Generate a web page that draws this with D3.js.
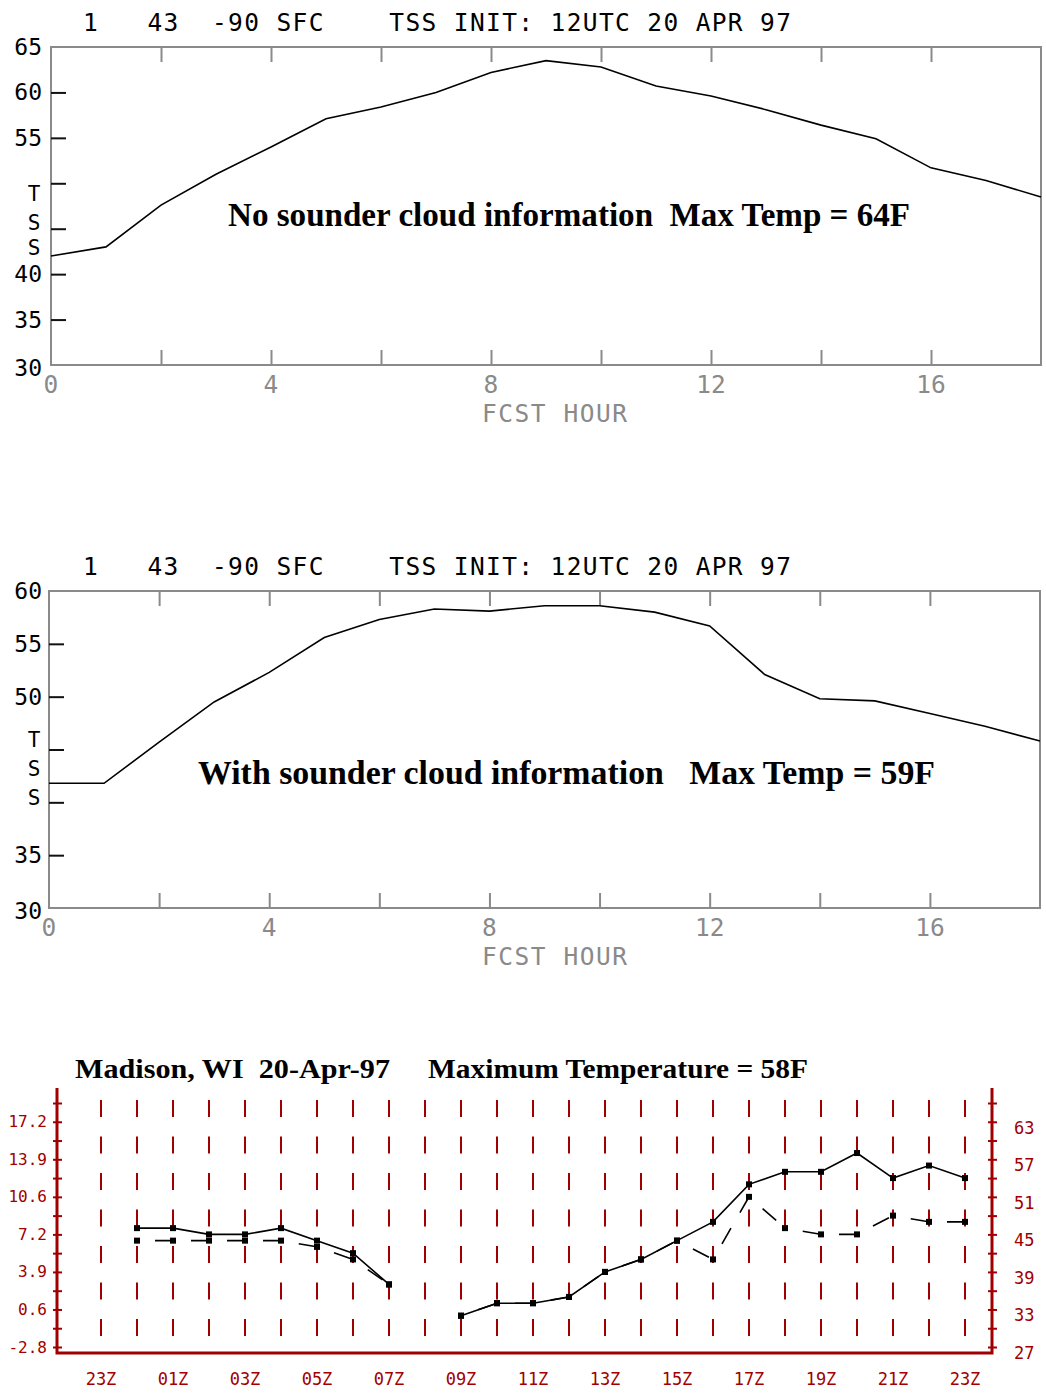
<!DOCTYPE html>
<html><head><meta charset="utf-8">
<script src="https://cdn.jsdelivr.net/npm/d3@7"></script>
<style>html,body{margin:0;padding:0;background:#fff}</style>
</head><body><svg id="c" width="1046" height="1395"></svg>
<script>
// ---------------- DATA ----------------
const fcstHours = d3.range(0, 19);
const tempNoSounder   = [42.0, 43.0, 47.6, 51.0, 54.0, 57.1, 58.4, 60.0, 62.2, 63.5, 62.8, 60.7, 59.6, 58.1, 56.4, 54.9, 51.7, 50.3, 48.5];
const tempWithSounder = [41.8, 41.8, 45.7, 49.5, 52.3, 55.6, 57.3, 58.3, 58.1, 58.6, 58.6, 58.0, 56.7, 52.1, 49.8, 49.6, 48.4, 47.2, 45.8];
const tssXTickLabels = [0, 4, 8, 12, 16];
const tssXMinorTicks = [2, 4, 6, 8, 10, 12, 14, 16];
const tss1YTickLabels = [65, 60, 55, 40, 35, 30];
const tss1YTicks = [60, 55, 50, 45, 40, 35];
const tss2YTickLabels = [60, 55, 50, 35, 30];
const tss2YTicks = [55, 50, 45, 40, 35];
const tssAxisLetters = ["T", "S", "S"];
const tssTitle = "1   43  -90 SFC    TSS INIT: 12UTC 20 APR 97";
const tssXTitle = "FCST HOUR";
const note1 = "No sounder cloud information  Max Temp = 64F";
const note2 = "With sounder cloud information   Max Temp = 59F";

const obsHours = ["23Z","00Z","01Z","02Z","03Z","04Z","05Z","06Z","07Z","08Z","09Z","10Z","11Z","12Z","13Z","14Z","15Z","16Z","17Z","18Z","19Z","20Z","21Z","22Z","23Z"];
const obsTemp   = [null,46,46,45,45,46,44,42,37,null,32,34,34,35,39,41,44,47,53,55,55,58,54,56,54];
const obsDashed = [null,44,44,44,44,44,43,41,37,null,32,34,34,35,39,41,44,41,51,46,45,45,48,47,47];
const leftLabelsC = ["17.2","13.9","10.6","7.2","3.9","0.6","-2.8"];
const rightLabelsF = [63, 57, 51, 45, 39, 33, 27];
const obsTitleA = "Madison, WI  20-Apr-97";
const obsTitleB = "Maximum Temperature = 58F";

// ---------------- DRAW ----------------
const svg = d3.select("#c");
svg.append("rect").attr("width", 1046).attr("height", 1395).attr("fill", "#fff");
const MONO = "'DejaVu Sans Mono', monospace";
const SERIF = "'Liberation Serif', 'Times New Roman', serif";
const GRAY = "#8a8a8a";

function drawTss(cfg) {
  const g = svg.append("g");
  const x = d3.scaleLinear().domain([0, 18]).range(cfg.xr);
  const y = d3.scaleLinear().domain(cfg.yd).range(cfg.yr);
  const [x0, x1] = cfg.xr, [yb, yt] = cfg.yr;

  // title
  g.append("text").attr("x", 83).attr("y", cfg.titleY)
    .attr("font-family", MONO).attr("font-size", 24.5).attr("fill", "#000")
    .attr("textLength", 708).attr("lengthAdjust", "spacing")
    .style("white-space", "pre").text(tssTitle);

  // frame
  g.append("rect").attr("x", x0).attr("y", yt).attr("width", x1 - x0).attr("height", yb - yt)
    .attr("fill", "none").attr("stroke", GRAY).attr("stroke-width", 2);

  // top ticks
  const top = g.append("g").attr("transform", `translate(0,${yt})`)
    .call(d3.axisBottom(x).tickValues(tssXMinorTicks).tickSize(15).tickFormat(""));
  top.select(".domain").remove();
  top.selectAll("line").attr("stroke", GRAY).attr("stroke-width", 2);
  // bottom ticks
  const bot = g.append("g").attr("transform", `translate(0,${yb})`)
    .call(d3.axisTop(x).tickValues(tssXMinorTicks).tickSize(15).tickFormat(""));
  bot.select(".domain").remove();
  bot.selectAll("line").attr("stroke", GRAY).attr("stroke-width", 2);
  // left ticks
  const lt = g.append("g").attr("transform", `translate(${x0},0)`)
    .call(d3.axisRight(y).tickValues(cfg.yTicks).tickSize(15).tickFormat(""));
  lt.select(".domain").remove();
  lt.selectAll("line").attr("stroke", "#111").attr("stroke-width", 2);

  // y labels
  g.selectAll(".yl").data(cfg.yLabels).join("text")
    .attr("x", 42).attr("y", d => y(d) + (d === cfg.yd[0] ? 3 : 0))
    .attr("text-anchor", "end").attr("dominant-baseline", "central")
    .attr("font-family", MONO).attr("font-size", 23).attr("fill", "#000").text(d => d);
  // axis letters T S S
  g.selectAll(".al").data(tssAxisLetters).join("text")
    .attr("x", 34).attr("y", (d, i) => y(cfg.letterVals[i]))
    .attr("text-anchor", "middle").attr("dominant-baseline", "central")
    .attr("font-family", MONO).attr("font-size", 21).attr("fill", "#000").text(d => d);

  // x labels
  g.selectAll(".xl").data(tssXTickLabels).join("text")
    .attr("x", d => x(d)).attr("y", yb + 28)
    .attr("text-anchor", "middle")
    .attr("font-family", MONO).attr("font-size", 24.5).attr("fill", GRAY).text(d => d);
  g.append("text").attr("x", 482).attr("y", yb + 57)
    .attr("font-family", MONO).attr("font-size", 24.5).attr("fill", GRAY)
    .attr("textLength", 145).attr("lengthAdjust", "spacing").text(tssXTitle);

  // line
  const line = d3.line().x((d, i) => x(fcstHours[i])).y(d => y(d));
  g.append("path").datum(cfg.data).attr("d", line)
    .attr("fill", "none").attr("stroke", "#000").attr("stroke-width", 1.6);

  // annotation
  g.append("text").attr("x", cfg.noteX).attr("y", cfg.noteY)
    .attr("font-family", SERIF).attr("font-weight", "bold").attr("font-size", 33)
    .attr("fill", "#000").attr("textLength", cfg.noteW).attr("lengthAdjust", "spacingAndGlyphs")
    .style("white-space", "pre").text(cfg.note);
}

drawTss({xr: [51, 1041], yr: [365, 47], yd: [30, 65], yTicks: tss1YTicks, yLabels: tss1YTickLabels,
  letterVals: [48.8, 45.6, 42.9], titleY: 31, data: tempNoSounder,
  note: note1, noteX: 228, noteY: 226, noteW: 682});
drawTss({xr: [49, 1040], yr: [908, 591], yd: [30, 60], yTicks: tss2YTicks, yLabels: tss2YTickLabels,
  letterVals: [45.9, 43.2, 40.4], titleY: 575, data: tempWithSounder,
  note: note2, noteX: 198, noteY: 784, noteW: 737});

// ---------------- OBS CHART ----------------
const RED = "#a00000";
const g3 = svg.append("g");
const xo = d3.scaleLinear().domain([0, 24]).range([101, 965]);
const yo = d3.scaleLinear().domain([27, 66]).range([1347, 1103]);
const AX_L = 57, AX_R = 992, AX_T = 1088, AX_B = 1353;

g3.append("text").attr("x", 75).attr("y", 1078)
  .attr("font-family", SERIF).attr("font-weight", "bold").attr("font-size", 27)
  .attr("textLength", 315).attr("lengthAdjust", "spacingAndGlyphs")
  .style("white-space", "pre").text(obsTitleA);
g3.append("text").attr("x", 428).attr("y", 1078)
  .attr("font-family", SERIF).attr("font-weight", "bold").attr("font-size", 27)
  .attr("textLength", 380).attr("lengthAdjust", "spacingAndGlyphs")
  .style("white-space", "pre").text(obsTitleB);

// dashed grid
g3.selectAll(".grid").data(obsHours).join("line")
  .attr("x1", (d, i) => xo(i)).attr("x2", (d, i) => xo(i))
  .attr("y1", 1100).attr("y2", 1341)
  .attr("stroke", RED).attr("stroke-width", 2).attr("stroke-dasharray", "17,19.5");

// axis frame
g3.append("path").attr("d", `M${AX_L},${AX_T}V${AX_B}H${AX_R}V${AX_T}`)
  .attr("fill", "none").attr("stroke", RED).attr("stroke-width", 3);
const tickVals = d3.range(27, 67, 3);
const la = g3.append("g").attr("transform", `translate(${AX_L + 5},0)`)
  .call(d3.axisLeft(yo).tickValues(tickVals).tickSize(9).tickFormat(""));
la.select(".domain").remove();
la.selectAll("line").attr("stroke", RED).attr("stroke-width", 2);
const ra = g3.append("g").attr("transform", `translate(${AX_R + 5},0)`)
  .call(d3.axisLeft(yo).tickValues(tickVals).tickSize(9).tickFormat(""));
ra.select(".domain").remove();
ra.selectAll("line").attr("stroke", RED).attr("stroke-width", 2);

g3.selectAll(".ll").data(leftLabelsC).join("text")
  .attr("x", 47).attr("y", (d, i) => yo(rightLabelsF[i]))
  .attr("text-anchor", "end").attr("dominant-baseline", "central")
  .attr("font-family", MONO).attr("font-size", 16).attr("fill", RED).text(d => d);
g3.selectAll(".rl").data(rightLabelsF).join("text")
  .attr("x", 1014).attr("y", d => yo(d) + 6)
  .attr("dominant-baseline", "central")
  .attr("font-family", MONO).attr("font-size", 17).attr("fill", RED).text(d => d);
g3.selectAll(".xl").data(obsHours.map((h, i) => ({h, i})).filter(d => d.i % 2 === 0)).join("text")
  .attr("x", d => xo(d.i)).attr("y", 1385)
  .attr("text-anchor", "middle")
  .attr("font-family", MONO).attr("font-size", 17).attr("fill", RED).text(d => d.h);

// dashed series: segment by segment, gap first
const segs = [];
obsDashed.forEach((v, i) => { if (i > 0 && v != null && obsDashed[i - 1] != null) segs.push([i - 1, i]); });
g3.selectAll(".dseg").data(segs).join("line")
  .attr("x1", d => xo(d[0])).attr("y1", d => yo(obsDashed[d[0]]))
  .attr("x2", d => xo(d[1])).attr("y2", d => yo(obsDashed[d[1]]))
  .attr("stroke", "#000").attr("stroke-width", 1.6)
  .attr("stroke-dasharray", "0,18,18,0");
g3.selectAll(".dm").data(obsDashed.map((v, i) => ({v, i})).filter(d => d.v != null)).join("rect")
  .attr("x", d => xo(d.i) - 3).attr("y", d => yo(d.v) - 3).attr("width", 6).attr("height", 6).attr("fill", "#000");

// solid series
const sline = d3.line().defined(d => d != null).x((d, i) => xo(i)).y(d => yo(d));
g3.append("path").datum(obsTemp).attr("d", sline)
  .attr("fill", "none").attr("stroke", "#000").attr("stroke-width", 1.6);
g3.selectAll(".sm").data(obsTemp.map((v, i) => ({v, i})).filter(d => d.v != null)).join("rect")
  .attr("x", d => xo(d.i) - 3).attr("y", d => yo(d.v) - 3).attr("width", 6).attr("height", 6).attr("fill", "#000");
</script></body></html>
